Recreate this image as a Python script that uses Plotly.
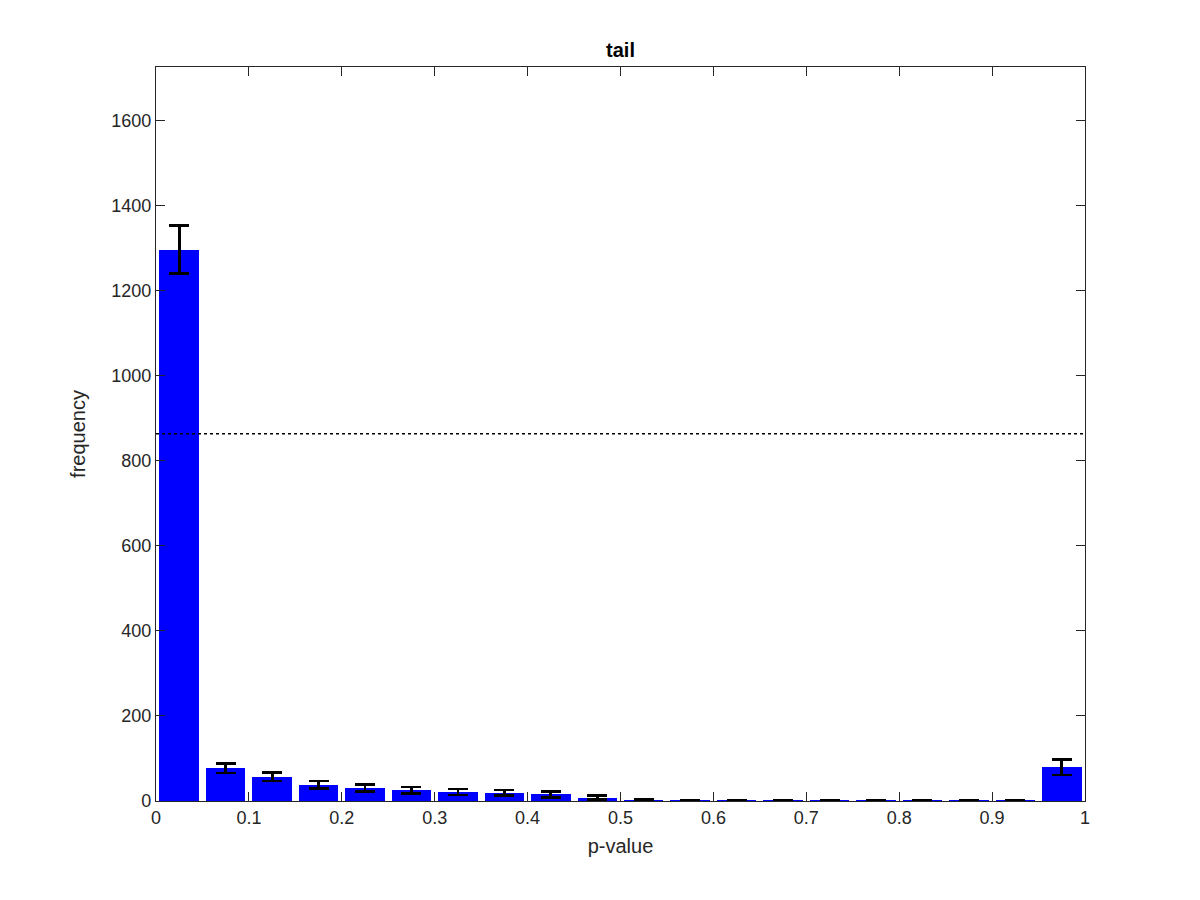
import plotly.graph_objects as go

bin_centers = [0.025, 0.075, 0.125, 0.175, 0.225, 0.275, 0.325, 0.375, 0.425, 0.475,
               0.525, 0.575, 0.625, 0.675, 0.725, 0.775, 0.825, 0.875, 0.925, 0.975]
frequencies = [1296, 77, 57, 38, 30, 25, 21, 19, 16, 8,
               2, 0.6, 0.5, 0.4, 0.4, 0.4, 0.4, 0.4, 0.4, 79]
errors = [57, 11, 10, 9, 8, 8, 7, 7, 7, 5,
          2, 1, 1, 1, 1, 1, 1, 1, 1, 18]
reference_level = 863
x_ticks = [0, 0.1, 0.2, 0.3, 0.4, 0.5, 0.6, 0.7, 0.8, 0.9, 1]
x_tick_labels = ["0", "0.1", "0.2", "0.3", "0.4", "0.5", "0.6", "0.7", "0.8", "0.9", "1"]
y_ticks = [0, 200, 400, 600, 800, 1000, 1200, 1400, 1600]

FONT = "Liberation Sans, Arial, Helvetica, sans-serif"
AX = "#262626"

fig = go.Figure()
fig.add_trace(go.Bar(
    x=bin_centers, y=frequencies, width=0.0425,
    marker=dict(color="#0000FF", line=dict(width=0)),
    error_y=dict(type="data", array=errors, visible=True,
                 color="black", thickness=2.8, width=10),
    showlegend=False,
))

fig.add_shape(type="line", xref="paper", x0=0, x1=1, yref="y",
              y0=reference_level, y1=reference_level,
              line=dict(color="black", width=1.5, dash="dot"))

axis_common = dict(showline=True, linecolor=AX, linewidth=1.3, mirror="allticks",
                   ticks="inside", ticklen=9, tickwidth=1.3, tickcolor=AX,
                   showgrid=False, zeroline=False,
                   tickfont=dict(family=FONT, size=18, color=AX))

fig.update_layout(
    width=1200, height=900,
    margin=dict(l=148, r=123, t=59, b=107),
    paper_bgcolor="white", plot_bgcolor="white",
    title=dict(text="<b>tail</b>", x=0.5, xanchor="center", xref="paper",
               y=1 - 42 / 900, yanchor="middle", yref="container",
               font=dict(family=FONT, size=20, color="black")),
    xaxis=dict(range=[0, 1], tickvals=x_ticks, ticktext=x_tick_labels,
               title=dict(text="p-value", standoff=12,
                          font=dict(family=FONT, size=20, color=AX)),
               **axis_common),
    yaxis=dict(range=[0, 1725], tickvals=y_ticks,
               title=dict(text="frequency", standoff=20,
                          font=dict(family=FONT, size=20, color=AX)),
               **axis_common),
    bargap=0,
)

fig.write_html("out.html")
